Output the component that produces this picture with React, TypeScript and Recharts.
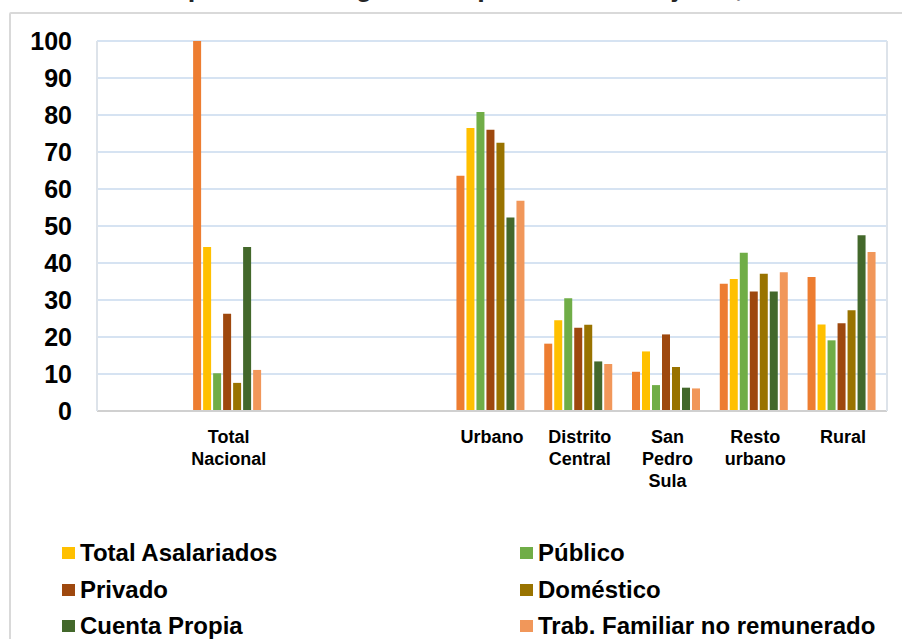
import { Bar, BarChart, CartesianGrid, XAxis, YAxis } from "recharts";

const categories = [
  "",
  "Total Nacional",
  "",
  "",
  "Urbano",
  "Distrito Central",
  "San Pedro Sula",
  "Resto urbano",
  "Rural"
];
const tickLines = [
  [],
  ["Total", "Nacional"],
  [],
  [],
  ["Urbano"],
  ["Distrito", "Central"],
  ["San", "Pedro", "Sula"],
  ["Resto", "urbano"],
  ["Rural"]
];

const total = [null, 100, null, null, 63.6, 18.2, 10.6, 34.4, 36.2];
const asalariados = [null, 44.3, null, null, 76.5, 24.5, 16.1, 35.7, 23.4];
const publico = [null, 10.2, null, null, 80.8, 30.5, 7.0, 42.8, 19.1];
const privado = [null, 26.3, null, null, 76.0, 22.5, 20.7, 32.3, 23.7];
const domestico = [null, 7.6, null, null, 72.5, 23.3, 11.9, 37.1, 27.2];
const cuentaPropia = [null, 44.3, null, null, 52.3, 13.4, 6.3, 32.3, 47.5];
const familiar = [null, 11.1, null, null, 56.8, 12.7, 6.1, 37.5, 43.0];

const yTicks = [0, 10, 20, 30, 40, 50, 60, 70, 80, 90, 100];

const series = [
  { key: "total", name: "Total", values: total, color: "#ED7D31", legend: false },
  { key: "asal", name: "Total Asalariados", values: asalariados, color: "#FFC000", legend: true },
  { key: "pub", name: "Público", values: publico, color: "#70AD47", legend: true },
  { key: "priv", name: "Privado", values: privado, color: "#9E480E", legend: true },
  { key: "dom", name: "Doméstico", values: domestico, color: "#997300", legend: true },
  { key: "cp", name: "Cuenta Propia", values: cuentaPropia, color: "#43682B", legend: true },
  { key: "fam", name: "Trab. Familiar no remunerado", values: familiar, color: "#F1975A", legend: true }
];

const data = categories.map((cat, i) => {
  const row: Record<string, any> = { cat, idx: i };
  series.forEach((s) => {
    row[s.key] = s.values[i];
  });
  return row;
});

const FONT = '"Liberation Sans", Arial, sans-serif';

function XTick(props: any) {
  const { x, y, payload } = props;
  const lines = tickLines[payload.index] || [];
  return (
    <text
      x={x}
      y={y + 24}
      textAnchor="middle"
      fontFamily={FONT}
      fontWeight="bold"
      fontSize={18}
      fill="#000"
    >
      {lines.map((l, i) => (
        <tspan key={i} x={x} dy={i === 0 ? 0 : 22}>
          {l}
        </tspan>
      ))}
    </text>
  );
}

export default function App() {
  const legendItems = series.filter((s) => s.legend);
  return (
    <div
      style={{
        position: "absolute",
        left: 0,
        top: 0,
        width: 902,
        height: 639,
        overflow: "hidden",
        background: "#fff",
        fontFamily: FONT
      }}
    >
      <div
        style={{
          position: "absolute",
          left: 9,
          top: 12,
          width: 960,
          height: 700,
          border: "2px solid #D9D9D9",
          borderRadius: 2
        }}
      />
      <div
        style={{
          position: "absolute",
          left: 0,
          width: 950,
          top: -28,
          textAlign: "center",
          fontSize: 27,
          fontWeight: "bold",
          color: "#262626",
          whiteSpace: "nowrap",
          lineHeight: "30px"
        }}
      >
        ocupada de Categoría ocupacional de Mujeres, 1990
      </div>
      <div style={{ position: "absolute", left: 0, top: 0 }}>
        <BarChart
          width={902}
          height={639}
          data={data}
          margin={{ top: 41, right: 14, left: 0, bottom: 227 }}
          barCategoryGap="9.5%"
          barGap={2}
        >
          <CartesianGrid stroke="#C9DAEE" strokeWidth={1.5} vertical={false} />
          <XAxis
            dataKey="cat"
            interval={0}
            tickLine={false}
            axisLine={{ stroke: "#D0D0D0", strokeWidth: 2 }}
            tick={<XTick />}
            height={1}
          />
          <YAxis
            domain={[0, 100]}
            ticks={yTicks}
            width={97}
            tickLine={false}
            tickMargin={19}
            axisLine={{ stroke: "#DDE3EA", strokeWidth: 2 }}
            tick={{ fontFamily: FONT, fontWeight: "bold", fontSize: 25, fill: "#000" }}
          />
          <YAxis
            yAxisId="r"
            orientation="right"
            domain={[0, 100]}
            width={1}
            tick={false}
            tickLine={false}
            axisLine={{ stroke: "#DDE3EA", strokeWidth: 2 }}
          />
          {series.map((s) => (
            <Bar
              key={s.key}
              dataKey={s.key}
              name={s.name}
              fill={s.color}
              isAnimationActive={false}
            />
          ))}
        </BarChart>
      </div>
      <div
        style={{
          position: "absolute",
          left: 62,
          top: 535,
          width: 840,
          display: "grid",
          gridTemplateColumns: "458px 380px",
          rowGap: 0
        }}
      >
        {legendItems.map((s) => (
          <div
            key={s.key}
            style={{
              display: "flex",
              alignItems: "center",
              height: 36.5,
              fontSize: 24,
              fontWeight: "bold",
              color: "#000",
              whiteSpace: "nowrap"
            }}
          >
            <span
              style={{
                display: "inline-block",
                width: 13,
                height: 12,
                background: s.color,
                marginRight: 5
              }}
            />
            {s.name}
          </div>
        ))}
      </div>
    </div>
  );
}
